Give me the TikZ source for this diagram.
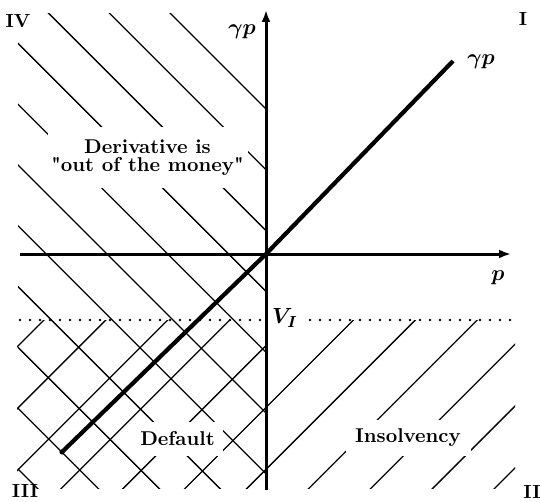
\documentclass[tikz,border=0pt]{standalone}
\usepackage{fontspec}
\usepackage{amsmath,bm}
\usepackage{tikz}
\usetikzlibrary{arrows.meta}

\begin{document}
\begin{tikzpicture}[
 x=0.5pt,y=-0.5pt,
 ax/.style={-{Latex[length=6pt,width=4.5pt]},line width=1.5pt},
 hl/.style={line width=0.65pt},
 lbl/.style={fill=white,inner sep=0pt,align=center,font=\bfseries\fontsize{10}{9}\selectfont},
 num/.style={inner sep=0pt,font=\bfseries\fontsize{9.5}{10}\selectfont},
 mth/.style={font=\fontsize{11}{12}\selectfont},
 dots/.style={line width=1.4pt,line cap=round,dash pattern=on 0pt off 5pt}
]
\useasboundingbox (0,0) rectangle (540,502);
\coordinate (O) at (266,254);
\coordinate (xl) at (20,254);
\coordinate (xr) at (511,254);
\coordinate (yb) at (266,490);
\coordinate (yt) at (266,10);
\coordinate (lo) at (62,452);
\coordinate (hi) at (453,61);
\coordinate (dl) at (20,320);
\coordinate (dr) at (513,320);
\begin{scope}
 \clip (18,14) rectangle (266,488);
 \foreach \k in {0,...,10}
  \draw[hl] (-100,{-257+60.8*\k}) -- (600,{443+60.8*\k});
\end{scope}
\begin{scope}
 \clip (17,320) rectangle (266,488);
 \foreach \k in {0,...,6}
  \draw[hl] (-100,{464+61.9*\k}) -- (700,{-336+61.9*\k});
\end{scope}
\begin{scope}
 \clip (266,320) rectangle (515,488);
 \foreach \k in {5,...,10}
  \draw[hl] (-100,{464+61.9*\k}) -- (700,{-336+61.9*\k});
\end{scope}
\node[lbl,minimum width=100pt,minimum height=30.5pt] (otm) at (147.5,157.5) {Derivative is\\\textquotedbl out of the money\textquotedbl};
\node[lbl,minimum width=45.5pt,minimum height=17pt] (dft) at (177.5,439) {Default};
\node[lbl,minimum width=62.5pt,minimum height=18pt] (ins) at (408,438) {Insolvency};
\draw[dots] (dl) -- (dr);
\node[mth,fill=white,inner xsep=3pt,inner ysep=1pt] (vi) at (285,318) {$\bm{V_I}$};
\draw[ax] (xl) -- (xr);
\draw[ax] (yb) -- (yt);
\draw[line width=2.1pt] (lo) -- (O) -- (hi);
\fill (lo) circle (1.3pt);
\node[mth] (gy) at (242,32) {$\bm{\gamma p}$};
\node[mth] (gl) at (481,62) {$\bm{\gamma p}$};
\node[mth] (px) at (498,278) {$\bm{p}$};
\node[num] (q1) at (523,19) {I};
\node[num] (q2) at (532,492) {II};
\node[num] (q3) at (25,491) {III};
\node[num] (q4) at (18,21) {IV};
\end{tikzpicture}
\end{document}
